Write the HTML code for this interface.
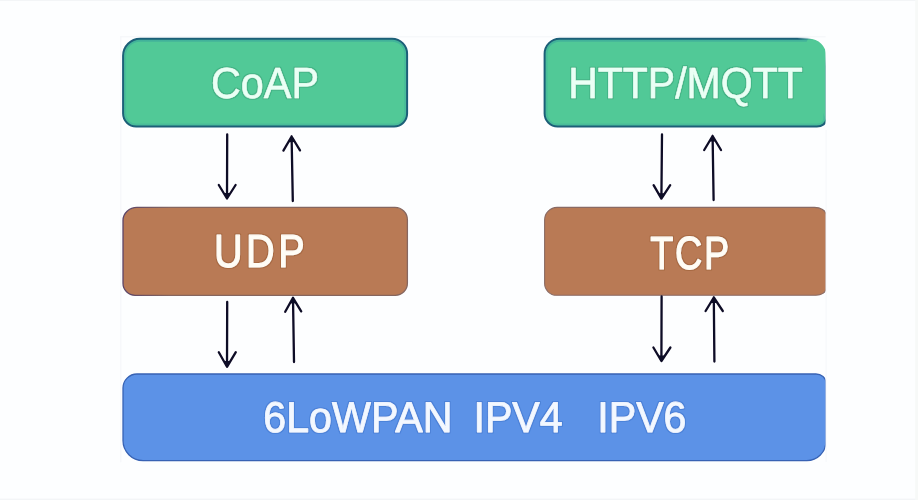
<!DOCTYPE html>
<html>
<head>
<meta charset="utf-8">
<title>Protocol stack</title>
<style>
html,body{margin:0;padding:0;background:#fdfeff;}
body{width:918px;height:500px;overflow:hidden;}
svg{display:block;}
text{font-family:"Liberation Sans",Arial,Helvetica,sans-serif;text-rendering:geometricPrecision;}
.ar{stroke:#100b26;stroke-width:2.3;fill:none;stroke-linecap:round;stroke-linejoin:round;}
.ah{fill:#100b26;stroke:none;}
</style>
</head>
<body>
<svg width="918" height="500" viewBox="0 0 918 500">
  <defs>
    <path id="g1" d="M140.10 38.70 L392.10 38.70 A15 15 0 0 1 407.10 53.70 L407.10 113.60 A13 13 0 0 1 394.10 126.60 L136.10 126.60 A13 13 0 0 1 123.10 113.60 L123.10 55.70 A17 17 0 0 1 140.10 38.70 Z"/>
    <clipPath id="cg1"><use href="#g1"/></clipPath>
    <path id="g2" d="M559.60 38.70 L808.90 38.70 A17.4 17 0 0 1 826.30 55.70 L826.30 119.10 A9.4 7.5 0 0 1 816.90 126.60 L557.60 126.60 A13 13 0 0 1 544.60 113.60 L544.60 53.70 A15 15 0 0 1 559.60 38.70 Z"/>
    <clipPath id="cg2"><use href="#g2"/></clipPath>
    <path id="b1" d="M137.00 207.40 L394.90 207.40 A12.5 12.5 0 0 1 407.40 219.90 L407.40 283.30 A12 12 0 0 1 395.40 295.30 L135.00 295.30 A12 12 0 0 1 123.00 283.30 L123.00 220.40 A14 13 0 0 1 137.00 207.40 Z"/>
    <path id="b2" d="M557.10 207.40 L814.40 207.40 A11.5 7 0 0 1 825.90 214.40 L825.90 288.80 A10 6.5 0 0 1 815.90 295.30 L556.60 295.30 A12 12 0 0 1 544.60 283.30 L544.60 219.90 A12.5 12.5 0 0 1 557.10 207.40 Z"/>
    <path id="u1" d="M137.00 374.00 L815.90 374.00 A10 8.7 0 0 1 825.90 382.70 L825.90 441.60 A19 19 0 0 1 806.90 460.60 L143.00 460.60 A20 20 0 0 1 123.00 440.60 L123.00 388.00 A14 14 0 0 1 137.00 374.00 Z"/>
    <linearGradient id="gg2" gradientUnits="userSpaceOnUse" x1="799" y1="40" x2="806" y2="33"><stop offset="0" stop-color="#1d5f78"/><stop offset="1" stop-color="#1d5f78" stop-opacity="0"/></linearGradient>
    <linearGradient id="glow" gradientUnits="userSpaceOnUse" x1="0" y1="38" x2="0" y2="127"><stop offset="0" stop-color="#2a8f9e" stop-opacity="0.42"/><stop offset="0.2" stop-color="#2a8f9e" stop-opacity="0.2"/><stop offset="1" stop-color="#2a8f9e" stop-opacity="0.22"/></linearGradient>
    <clipPath id="clipG2"><path d="M540 30 L812 30 L803 50 L822 110 L830 130 L540 130 Z"/></clipPath>
    <linearGradient id="gb1" gradientUnits="userSpaceOnUse" x1="123" y1="0" x2="170" y2="0"><stop offset="0" stop-color="#5b4468"/><stop offset="1" stop-color="#86665f"/></linearGradient>
    <clipPath id="clipR"><rect x="0" y="0" width="825.4" height="500"/></clipPath>
    <filter id="hG" x="-5%" y="-20%" width="110%" height="140%"><feMorphology in="SourceAlpha" operator="dilate" radius="0.7" result="d"/><feGaussianBlur in="d" stdDeviation="0.5" result="db"/><feFlood flood-color="#36a076" flood-opacity="0.55"/><feComposite in2="db" operator="in" result="h"/><feMerge><feMergeNode in="h"/><feMergeNode in="SourceGraphic"/></feMerge></filter>
    <filter id="hB" x="-5%" y="-20%" width="110%" height="140%"><feMorphology in="SourceAlpha" operator="dilate" radius="0.7" result="d"/><feGaussianBlur in="d" stdDeviation="0.5" result="db"/><feFlood flood-color="#9a5d36" flood-opacity="0.55"/><feComposite in2="db" operator="in" result="h"/><feMerge><feMergeNode in="h"/><feMergeNode in="SourceGraphic"/></feMerge></filter>
    <filter id="hU" x="-5%" y="-20%" width="110%" height="140%"><feMorphology in="SourceAlpha" operator="dilate" radius="0.7" result="d"/><feGaussianBlur in="d" stdDeviation="0.5" result="db"/><feFlood flood-color="#3f74cc" flood-opacity="0.55"/><feComposite in2="db" operator="in" result="h"/><feMerge><feMergeNode in="h"/><feMergeNode in="SourceGraphic"/></feMerge></filter>
    <filter id="soft" x="0" y="0" width="918" height="500" filterUnits="userSpaceOnUse"><feGaussianBlur stdDeviation="0.6"/></filter>
  </defs>
  <rect x="0" y="0" width="918" height="500" fill="#fdfeff"/>
  <g filter="url(#soft)">
  <rect x="-5" y="-5" width="928" height="510" fill="#fdfeff"/>
  <rect x="0" y="-1" width="918" height="2" fill="#f3f5f7"/>
  <rect x="0" y="498.6" width="918" height="3" fill="#f3f5f7"/>
  <rect x="915.2" y="0" width="4" height="500" fill="#f7f9f8"/>
  <rect x="120.3" y="36.3" width="705.3" height="1" fill="#f3f5f8"/>
  <rect x="120.3" y="36.3" width="1" height="426" fill="#f4f6f9"/>
  <rect x="825.6" y="130" width="1" height="332" fill="#f5f7fa"/>
  <g clip-path="url(#clipR)">
    <use href="#g1" fill="#51c997"/>
    <use href="#g1" fill="none" stroke="url(#glow)" stroke-width="6" clip-path="url(#cg1)"/>
    <use href="#g1" fill="none" stroke="#1d5f78" stroke-width="2.0"/>
    <use href="#g2" fill="#51c997"/>
    <g clip-path="url(#clipG2)"><use href="#g2" fill="none" stroke="url(#glow)" stroke-width="6" clip-path="url(#cg2)"/></g>
    <use href="#g2" fill="none" stroke="url(#gg2)" stroke-width="2.0"/>
    <use href="#b1" fill="#b97a54"/>
    <use href="#b1" fill="none" stroke="url(#gb1)" stroke-width="1.3"/>
    <use href="#b2" fill="#b97a54"/>
    <use href="#b2" fill="none" stroke="#8a6a64" stroke-width="1.1"/>
    <use href="#u1" fill="#5b92e7"/>
    <use href="#u1" fill="none" stroke="#3762b4" stroke-width="1.3"/>
  </g>
  <path class="ar" d="M227.2 134.5 L227 198.5 M218.8 185 L227 198.5 L235.6 185"/><path class="ah" d="M227.00 198.50 L223.72 193.10 L230.44 193.10 Z"/>
  <path class="ar" d="M291.6 136.5 L292.8 201 M283.4 150.6 L291.6 136.5 L300 150.4"/><path class="ah" d="M291.60 136.50 L288.32 142.14 L294.96 142.06 Z"/>
  <path class="ar" d="M227.2 302 L227 366.8 M218.8 352.2 L227 366.8 L235.8 352.2"/><path class="ah" d="M227.00 366.80 L223.72 360.96 L230.52 360.96 Z"/>
  <path class="ar" d="M293 297.8 L294 362 M285.2 311.8 L293 297.8 L301.2 311.4"/><path class="ah" d="M293.00 297.80 L289.88 303.40 L296.28 303.24 Z"/>
  <path class="ar" d="M662 134.5 L661.4 198.6 M653.6 185.2 L661.4 198.6 L670.2 185.2"/><path class="ah" d="M661.40 198.60 L658.28 193.24 L664.92 193.24 Z"/>
  <path class="ar" d="M712.6 136 L713.6 200 M704.2 150 L712.6 136 L721 150"/><path class="ah" d="M712.60 136.00 L709.24 141.60 L715.96 141.60 Z"/>
  <path class="ar" d="M661.6 296.5 L661.4 361 M653.4 347.5 L661.4 361 L670.4 347.5"/><path class="ah" d="M661.40 361.00 L658.20 355.60 L665.00 355.60 Z"/>
  <path class="ar" d="M713.8 297.5 L714.4 361.5 M705.6 311 L713.8 297.5 L722.8 311"/><path class="ah" d="M713.80 297.50 L710.52 302.90 L717.40 302.90 Z"/>
  <text filter="url(#hG)" transform="translate(265.01 97.55) scale(0.9514 1)" text-anchor="middle" font-size="43.5" fill="#eafff5" stroke="#eafff5" stroke-width="0.5" stroke-linejoin="round" letter-spacing="0">CoAP</text>
  <text filter="url(#hG)" transform="translate(685.45 97.55) scale(0.9427 1)" text-anchor="middle" font-size="43.5" fill="#eafff5" stroke="#eafff5" stroke-width="0.5" stroke-linejoin="round" letter-spacing="0">HTTP/MQTT</text>
  <text filter="url(#hB)" transform="translate(261.05 266.95) scale(0.8574 1)" text-anchor="middle" font-size="46.3" fill="#fffdf6" stroke="#fffdf6" stroke-width="1.1" stroke-linejoin="round" letter-spacing="4.0">UDP</text>
  <text filter="url(#hB)" transform="translate(690.52 269.25) scale(0.8166 1)" text-anchor="middle" font-size="46.3" fill="#fffdf6" stroke="#fffdf6" stroke-width="1.1" stroke-linejoin="round" letter-spacing="2.0">TCP</text>
  <text filter="url(#hU)" transform="translate(0 432.40) scale(0.9560 1)" text-anchor="start" font-size="43.1" fill="#f3f8ff" stroke="#f3f8ff" stroke-width="0.8" stroke-linejoin="round"><tspan x="275.40">6LoWPAN</tspan> <tspan x="495.22">IPV4</tspan> <tspan x="624.69">IPV6</tspan></text>
  </g>
</svg>
</body>
</html>
